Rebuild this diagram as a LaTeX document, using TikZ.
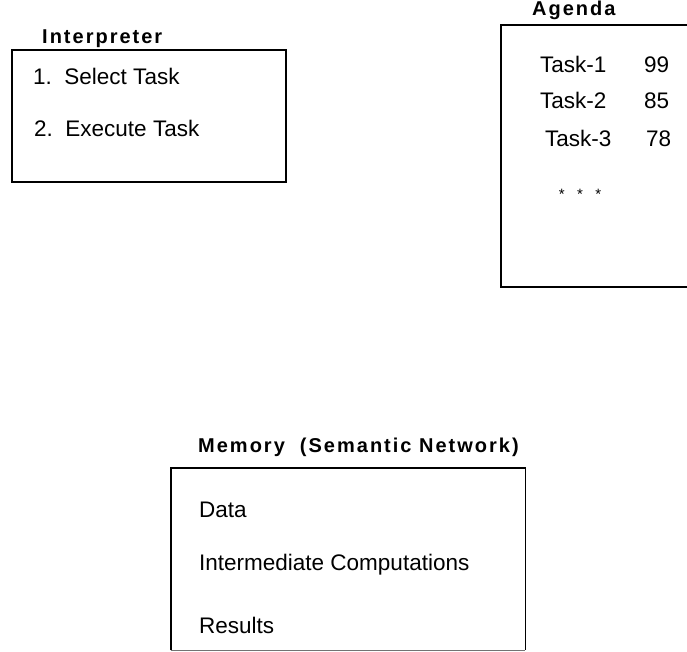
\documentclass[tikz,border=0pt]{standalone}
\usepackage{fontspec}
\setmainfont{Liberation Sans}
\newfontfamily\headfont[LetterSpace=10]{Liberation Sans}
\begin{document}
\begin{tikzpicture}[x=1pt,y=-1pt,
  panel/.style={draw, line width=1.8pt, rectangle, inner sep=0pt, anchor=north west},
  heading/.style={font=\headfont\bfseries\fontsize{20}{24}\selectfont, anchor=base west, inner sep=0pt},
  entry/.style={font=\fontsize{22.5}{26}\selectfont, anchor=base west, inner sep=0pt}]
\useasboundingbox (0,0) rectangle (687,651);
\clip (0,0) rectangle (687,651);

% Interpreter
\node[heading] (interpTitle) at (42,43) {Interpreter};
\node[panel, minimum width=274pt, minimum height=132pt] (interp) at (11,49) {};
\node[entry] (select) at (33,84) {1.\ \ Select Task};
\node[entry] (execute) at (34,136) {2.\ \ Execute Task};

% Agenda (box runs off the right edge)
\node[heading] (agendaTitle) at (532,15) {Agenda};
\node[panel, minimum width=260pt, minimum height=262pt] (agenda) at (500,24) {};
\node[entry] (t1) at (540,72) {Task-1};
\node[entry] (p1) at (644,72) {99};
\node[entry] (t2) at (540,108) {Task-2};
\node[entry] (p2) at (644,108) {85};
\node[entry] (t3) at (545,146) {Task-3};
\node[entry] (p3) at (646,146) {78};
\node[font=\fontsize{15}{17}\selectfont, inner sep=0pt] (dots) at (580,194) {*\ \ \ *\ \ \ *};

% Memory (the lower edge is fainter than the rest)
\node[heading] (memTitle) at (198,452) {Memory\ \ (Semantic Network)};
\node[inner sep=0pt, anchor=north west, minimum width=354pt, minimum height=182pt] (mem) at (171,468) {};
\draw[line width=1.8pt] (mem.south west) -- (mem.north west) -- (mem.north east) -- (mem.south east);
\draw[line width=1pt, black!55] (mem.south west) -- (mem.south east);
\node[entry] (data) at (199,517) {Data};
\node[entry] (inter) at (199,570) {Intermediate Computations};
\node[entry] (results) at (199,633) {Results};
\end{tikzpicture}
\end{document}
